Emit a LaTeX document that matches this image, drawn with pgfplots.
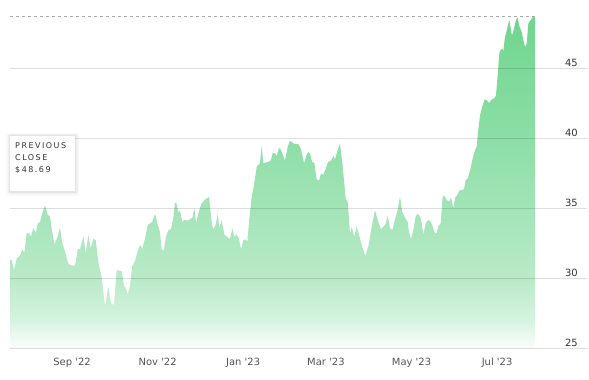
\documentclass[border=0pt]{standalone}
\usepackage{pgfplots}
\pgfplotsset{compat=1.18}
\usepackage{fontspec}
\setmainfont{DejaVu Sans}
\newfontfamily\boxfont[LetterSpace=19]{DejaVu Sans}
\definecolor{xlab}{HTML}{555555}
\definecolor{ylab}{HTML}{333333}
\definecolor{dashc}{HTML}{AAAAAA}
\pgfdeclareverticalshading{stockfill}{100bp}{rgb(0bp)=(0.98,0.995,0.985); rgb(25bp)=(0.98,0.995,0.985); rgb(29.2bp)=(0.84,0.953,0.875); rgb(35.3bp)=(0.725,0.918,0.784); rgb(45.9bp)=(0.64,0.894,0.72); rgb(56.5bp)=(0.55,0.87,0.65); rgb(75bp)=(0.44,0.835,0.557); rgb(100bp)=(0.44,0.835,0.557)}
\begin{document}
\begin{tikzpicture}
\begin{axis}[
  at={(10bp,32bp)}, anchor=south west,
  scale only axis, width=577bp, height=348bp,
  xmin=-44.2, xmax=367.1, ymin=25, ymax=49.857,
  axis line style={draw=none},
  major tick length=0pt,
  xtick={0,61,122,181,242,303},
  xticklabels={Sep \textquotesingle22, Nov \textquotesingle22, Jan \textquotesingle23, Mar \textquotesingle23, May \textquotesingle23, Jul \textquotesingle23},
  ytick={25,30,35,40,45},
  yticklabel pos=right,
  ymajorgrids,
  grid style={black, opacity=0.13, line width=0.8bp},
  axis on top,
  tick label style={font=\fontsize{10}{12}\selectfont},
  xticklabel style={text=xlab, anchor=north, inner sep=0pt, yshift=-10bp},
  yticklabel style={text=ylab, anchor=south east, inner sep=0pt, xshift=-9bp, yshift=1bp},
  /pgf/number format/assume math mode=true,
]
\addplot[draw=none, shade, shading=stockfill] coordinates {
(-44.2,25) (-44.2,31.29) (-43.0,31.3) (-41.3,30.6) (-39.4,31.4) (-37.1,31.6) (-35.4,32.05) (-34.0,31.8)
(-32.3,33.2) (-30.7,33.2) (-29.2,32.95) (-27.6,33.6) (-25.9,33.2) (-24.4,33.9) (-22.8,34.0) (-21.6,34.5)
(-19.2,35.2) (-17.3,34.5) (-15.7,34.4) (-14.5,33.55) (-12.6,32.4) (-10.2,32.95) (-8.6,33.6) (-6.9,32.5)
(-5.0,31.9) (-2.6,31.0) (-0.2,30.9) (1.4,30.85) (2.6,31.05) (4.1,32.1) (5.7,32.05) (8.1,32.95)
(9.8,31.75) (11.6,33.1) (13.3,32.1) (15.2,32.8) (16.9,32.7) (18.7,31.2) (21.2,29.98) (23.5,28.0)
(25.9,29.4) (27.8,28.2) (29.9,28.07) (31.9,30.6) (33.5,30.5) (35.4,30.5) (37.1,29.4) (38.3,29.3)
(39.7,28.86) (41.3,29.4) (43.0,30.86) (44.9,31.2) (46.8,31.9) (48.5,32.36) (50.1,32.1) (52.0,32.8)
(54.0,33.8) (55.6,33.9) (57.2,34.0) (59.2,34.6) (60.8,33.9) (62.7,33.3) (63.9,32.0) (65.6,32.0)
(67.0,32.95) (68.6,33.4) (70.6,33.5) (72.2,34.3) (73.4,35.4) (74.6,35.3) (75.8,34.7) (77.0,34.8)
(78.6,34.0) (80.5,34.15) (82.5,34.1) (84.1,34.2) (85.8,34.3) (87.2,35.0) (88.4,33.9) (90.0,34.6)
(92.0,35.25) (93.6,35.45) (94.8,35.6) (97.7,35.8) (98.4,35.1) (99.6,33.9) (100.7,33.5) (102.4,33.8)
(103.9,34.6) (105.0,33.55) (106.7,34.15) (108.6,33.1) (110.3,32.95) (112.6,32.8) (114.3,33.55) (115.7,32.95)
(117.4,33.1) (119.0,32.8) (120.5,32.05) (122.1,32.7) (123.8,32.76) (125.0,32.6) (126.4,34.26) (128.1,35.8)
(129.9,36.76) (131.7,37.95) (132.8,38.07) (134.0,38.2) (135.2,39.43) (136.4,38.2) (138.1,38.24) (139.9,38.3)
(141.8,38.4) (143.1,38.95) (144.7,38.9) (145.9,38.7) (147.5,39.3) (149.0,39.14) (150.6,38.7) (151.8,38.38)
(153.8,39.4) (155.4,39.8) (157.0,39.66) (159.0,39.57) (161.3,39.57) (163.2,39.2) (165.4,38.2) (167.3,38.8)
(168.4,39.0) (169.6,38.9) (171.3,38.26) (172.7,38.24) (174.4,37.05) (176.1,36.95) (177.5,37.48) (179.1,37.36)
(180.8,37.8) (182.7,38.3) (184.6,38.38) (186.3,38.7) (187.5,38.48) (189.4,39.14) (191.0,39.6) (192.7,38.2)
(194.1,36.76) (195.1,35.7) (196.5,35.45) (198.2,33.2) (199.4,33.66) (201.2,32.95) (202.9,33.66) (204.6,33.1)
(206.5,32.36) (208.9,31.57) (211.2,32.24) (213.6,33.66) (216.0,34.86) (218.3,34.0) (220.3,33.48) (221.9,33.66)
(223.6,33.86) (225.0,34.43) (226.7,33.55) (228.3,33.43) (230.2,34.15) (232.2,34.9) (233.8,35.8) (235.4,34.7)
(237.4,34.3) (239.3,34.0) (240.2,33.3) (241.6,32.76) (243.3,33.43) (245.0,34.4) (246.4,34.6) (248.1,34.4)
(249.3,33.9) (250.4,33.1) (252.1,33.9) (254.0,34.15) (255.9,34.0) (257.5,33.55) (258.7,33.2) (260.0,33.24)
(261.1,33.7) (262.8,33.9) (264.2,35.8) (265.4,35.86) (267.1,35.57) (268.7,35.45) (270.2,35.76) (271.8,34.98)
(273.0,35.7) (274.6,35.93) (276.1,36.24) (277.8,36.29) (279.4,36.33) (280.6,37.0) (282.1,37.12) (283.7,37.65)
(285.5,38.5) (287.3,39.14) (288.5,39.4) (289.4,40.4) (290.8,41.6) (292.6,42.3) (294.2,42.76) (295.8,42.7)
(297.2,42.5) (299.2,42.76) (300.8,42.83) (302.2,43.0) (303.9,45.1) (304.6,46.05) (305.6,46.3) (306.7,46.4)
(307.4,46.16) (308.6,47.2) (310.3,47.84) (311.7,48.43) (312.7,47.84) (313.6,47.29) (315.1,47.84) (316.5,48.43)
(317.7,48.62) (318.8,48.0) (320.5,47.6) (321.7,47.0) (322.9,46.48) (324.1,46.76) (325.3,48.19) (327.0,48.43)
(328.4,48.62) (329.5,48.69) (330.0,48.69) (330.0,25)
};
\addplot[dashc, line width=1bp, dash pattern=on 3.3bp off 2.7bp] coordinates {(-44.2,48.69) (330.0,48.69)};
\end{axis}
\fill[black, opacity=0.025] (6bp,184bp) rectangle (79bp,247bp);
\fill[black, opacity=0.035] (7.5bp,185.5bp) rectangle (77.5bp,245.5bp);
\fill[black, opacity=0.05] (9bp,187bp) rectangle (76bp,244.5bp);
\fill[white] (10bp,189bp) rectangle (75bp,244bp);
\node[anchor=base west, inner sep=0pt, text=ylab, font=\boxfont\fontsize{8}{10}\selectfont] at (15bp,231bp) {PREVIOUS};
\node[anchor=base west, inner sep=0pt, text=ylab, font=\boxfont\fontsize{8}{10}\selectfont] at (15bp,219bp) {CLOSE};
\node[anchor=base west, inner sep=0pt, text=ylab, font=\boxfont\fontsize{8}{10}\selectfont] at (15bp,207bp) {\$48.69};
\pgfresetboundingbox
\useasboundingbox (0,0) rectangle (589bp,380bp);
\end{tikzpicture}
\end{document}
